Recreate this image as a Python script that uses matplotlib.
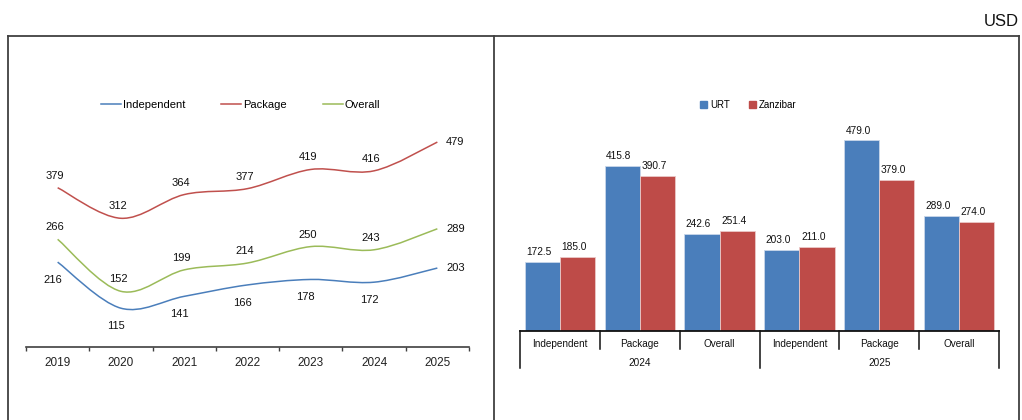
import matplotlib
matplotlib.use("Agg")
import matplotlib.pyplot as plt
from matplotlib.path import Path
from matplotlib.patches import PathPatch, Patch
from matplotlib.lines import Line2D
import matplotlib.transforms as mtransforms
import numpy as np

plt.rcParams['font.family'] = ['Liberation Sans', 'DejaVu Sans']

# ---- data: left line chart ----
years = ["2019", "2020", "2021", "2022", "2023", "2024", "2025"]
independent = [216, 115, 141, 166, 178, 172, 203]
package = [379, 312, 364, 377, 419, 416, 479]
overall = [266, 152, 199, 214, 250, 243, 289]

# ---- data: right bar chart ----
bar_categories = ["Independent", "Package", "Overall", "Independent", "Package", "Overall"]
bar_groups = ["2024", "2025"]
urt = [172.5, 415.8, 242.6, 203.0, 479.0, 289.0]
zanzibar = [185.0, 390.7, 251.4, 211.0, 379.0, 274.0]

C_IND = "#4A7EBB"
C_PKG = "#C0504D"
C_OVR = "#9BBB59"
C_URT = "#4A7EBB"
C_ZNZ = "#BE4B48"

W, H = 1022, 420
fig = plt.figure(figsize=(W / 100, H / 100), dpi=100)


def fx(x):
    return x / W


def fy(y):
    return 1 - y / H


# frames
frame_kw = dict(color="#404040", lw=1.3, transform=fig.transFigure)
fig.add_artist(Line2D([fx(8), fx(1019)], [fy(36), fy(36)], **frame_kw))
for xv in (8, 494, 1019):
    fig.add_artist(Line2D([fx(xv), fx(xv)], [fy(36), fy(430)], **frame_kw))

fig.text(fx(1019), fy(22), "USD", ha="right", va="center", fontsize=12, color="#111111")

# ---------------- left chart ----------------
axL = fig.add_axes([fx(26), fy(347), fx(469) - fx(26), (347 - 80) / H])
axL.set_xlim(-0.5, len(years) - 0.5)
axL.set_ylim(30, 615)
for s in ("top", "right", "left"):
    axL.spines[s].set_visible(False)
axL.spines["bottom"].set_color("#404040")
axL.spines["bottom"].set_linewidth(1.2)
axL.set_yticks([])
axL.set_xticks(np.arange(-0.5, len(years), 1.0))
axL.set_xticklabels([])
axL.tick_params(axis="x", which="major", length=3, width=1.0, color="#404040", direction="out")
axL.set_xticks(np.arange(len(years)), minor=True)
axL.set_xticklabels(years, minor=True, fontsize=8.5)
axL.tick_params(axis="x", which="minor", length=0, pad=7, labelcolor="#222222")


def smooth_path(xs, ys):
    pts = np.column_stack([xs, ys]).astype(float)
    n = len(pts)
    verts = [pts[0]]
    codes = [Path.MOVETO]
    for i in range(n - 1):
        p0 = pts[i - 1] if i > 0 else pts[i]
        p1 = pts[i]
        p2 = pts[i + 1]
        p3 = pts[i + 2] if i + 2 < n else pts[i + 1]
        c1 = p1 + (p2 - p0) / 6.0
        c2 = p2 - (p3 - p1) / 6.0
        verts += [c1, c2, p2]
        codes += [Path.CURVE4] * 3
    return Path(verts, codes)


xs = np.arange(len(years))
series = [("Independent", independent, C_IND, "below"),
          ("Package", package, C_PKG, "above"),
          ("Overall", overall, C_OVR, "above")]
handles = []
for name, vals, col, pos in series:
    axL.add_patch(PathPatch(smooth_path(xs, vals), fill=False, edgecolor=col, lw=1.1))
    handles.append(Line2D([], [], color=col, lw=1.1, label=name))
    for i, v in enumerate(vals):
        if i == len(vals) - 1:
            off = (18, 0)
        elif pos == "above":
            off = (-3, 12)
        else:
            off = (-5, -18)
        axL.annotate(str(v), (i, v), xytext=(off[0] * 0.72, off[1] * 0.72),
                     textcoords="offset points", ha="center", va="center",
                     fontsize=8, color="#111111")

axL.legend(handles=handles, loc="center", bbox_to_anchor=(0.485, 0.906), ncol=3,
           frameon=False, fontsize=8, handlelength=1.8, handletextpad=0.2,
           columnspacing=3.2)

# ---------------- right chart ----------------
axR = fig.add_axes([fx(520), fy(330.5), fx(999) - fx(520), (330.5 - 80) / H])
axR.set_xlim(-0.5, len(bar_categories) - 0.5)
axR.set_ylim(0, 631.5)
for s in ("top", "right", "left"):
    axR.spines[s].set_visible(False)
axR.spines["bottom"].set_color("#111111")
axR.spines["bottom"].set_linewidth(1.3)
axR.set_xticks([])
axR.set_yticks([])

bx = np.arange(len(bar_categories))
bw = 0.44
b1 = axR.bar(bx - 0.22, urt, bw, color=C_URT, edgecolor="#C9D7EA", linewidth=0.6, label="URT")
b2 = axR.bar(bx + 0.22, zanzibar, bw, color=C_ZNZ, edgecolor="#EBC9C8", linewidth=0.6, label="Zanzibar")
for rects, vals in ((b1, urt), (b2, zanzibar)):
    for r, v in zip(rects, vals):
        axR.annotate(f"{v:.1f}", (r.get_x() + r.get_width() / 2, v), xytext=(-2.5, 3.5),
                     textcoords="offset points", ha="center", va="bottom",
                     fontsize=7.3, color="#111111")

axR.legend(handles=[Patch(color=C_URT, label="URT"), Patch(color=C_ZNZ, label="Zanzibar")],
           loc="center", bbox_to_anchor=(0.477, 0.9), ncol=2, frameon=False, fontsize=7,
           handlelength=0.7, handleheight=0.7, handletextpad=0.3, columnspacing=2.0)

trans = mtransforms.blended_transform_factory(axR.transData, axR.transAxes)
ax_h = 330.5 - 80
n_per_group = len(bar_categories) // len(bar_groups)
for k in range(len(bar_categories) + 1):
    outer = (k % n_per_group == 0)
    y_end = -(368 - 330.5) / ax_h if outer else -(349 - 330.5) / ax_h
    axR.add_line(Line2D([k - 0.5, k - 0.5], [0, y_end], transform=trans, color="#111111",
                        lw=1.1, clip_on=False))
for i, c in enumerate(bar_categories):
    axR.text(i, -(344 - 330.5) / ax_h, c, transform=trans, ha="center", va="center",
             fontsize=7.2, color="#111111")
for g, name in enumerate(bar_groups):
    center = g * n_per_group + (n_per_group - 1) / 2
    axR.text(center, -(362.5 - 330.5) / ax_h, name, transform=trans, ha="center",
             va="center", fontsize=7.2, color="#111111")

fig.savefig("out.png", dpi=100)
